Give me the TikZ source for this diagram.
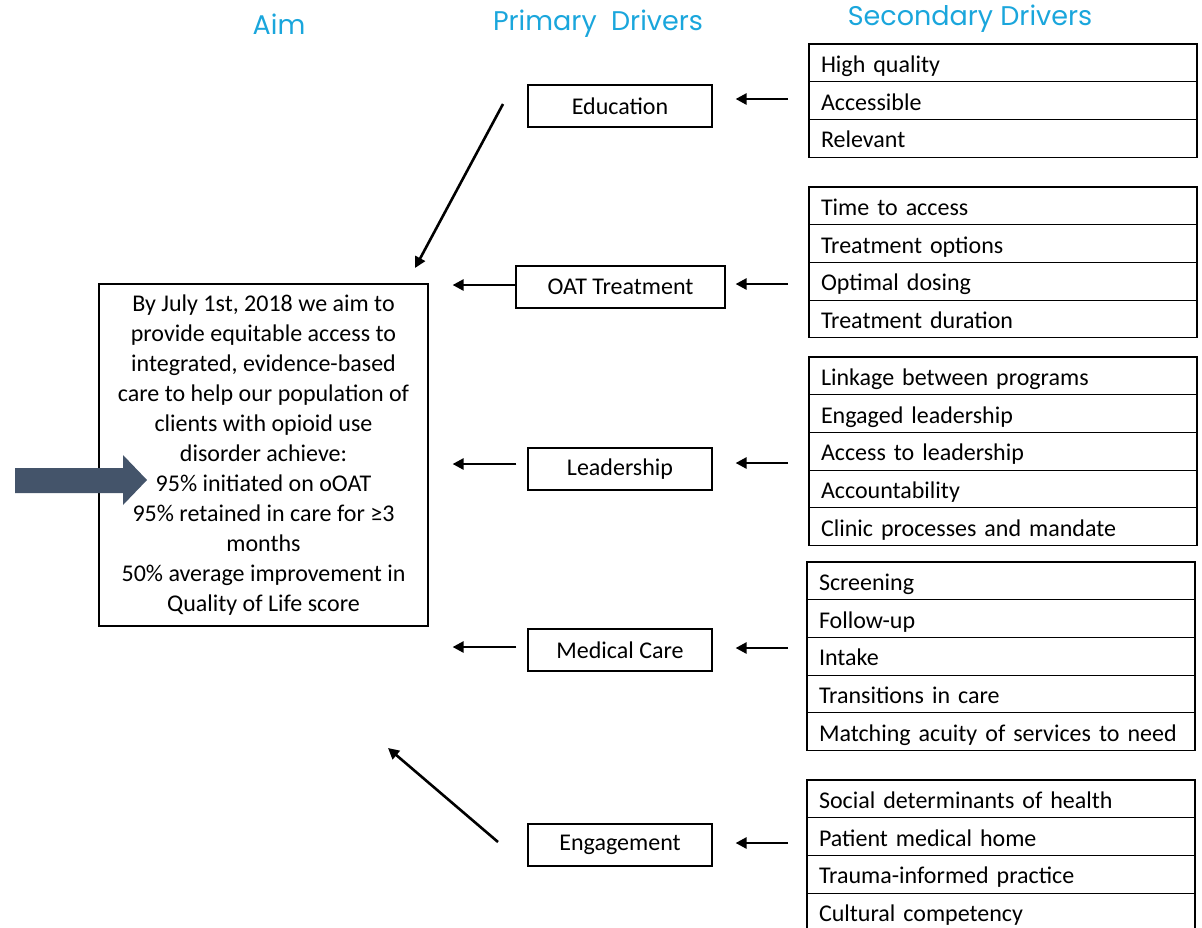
\documentclass[tikz,border=0pt]{standalone}
\usepackage{fontspec}
\setmainfont{Carlito}
\newfontfamily\headfont{Poppins}
\usetikzlibrary{arrows.meta,positioning}
\definecolor{hdcyan}{HTML}{1AA6DC}
\definecolor{slate}{HTML}{44546A}

\begin{document}
\begin{tikzpicture}[x=1pt, y=-1pt,
  every node/.style={font=\fontsize{24}{30}\selectfont},
  head/.style={font=\headfont\fontsize{27}{30}\selectfont, text=hdcyan},
  pbox/.style={draw, line width=1.2pt, minimum width=184pt, minimum height=42pt, inner sep=0pt},
  row/.style={draw, line width=1.2pt, outer sep=0pt, minimum height=37.7pt, text width=364pt, text height=23pt, text depth=4pt, inner xsep=12pt, inner ysep=0pt, align=left},
  arr/.style={-{Triangle[length=11pt,width=11pt]}, line width=2.6pt}
]
\useasboundingbox (0,0) rectangle (1202,927);

% headers
\node[head] (aimhd) at (279,24) {Aim};
\node[head] (prihd) at (598,24) {Primary\ \ Drivers};
\node[head] (sechd) at (970,19) {Secondary Drivers};

% aim
\node[draw, line width=1.2pt, minimum width=329pt, minimum height=342pt, align=center] (aim) at (263.5,455)
  {By July 1st, 2018 we aim to\\provide equitable access to\\integrated, evidence-based\\care to help our population of\\clients with opioid use\\disorder achieve:\\95\% initiated on oOAT\\95\% retained in care for ≥3\\months\\50\% average improvement in\\Quality of Life score};
\fill[slate] (15,468) -- (123,468) -- (123,455) -- (147,480) -- (123,505) -- (123,493) -- (15,493) -- cycle;

% primary drivers
\node[pbox] (edu) at (620,106) {Education};
\node[pbox, minimum width=209pt] (oat) at (620.5,287) {OAT Treatment};
\node[pbox] (lead) at (620,469) {Leadership};
\node[pbox] (med) at (620,650) {Medical Care};
\node[pbox] (eng) at (620,845) {Engagement};

% secondary drivers
\node[row, anchor=north west] (hq) at (809,44) {High quality};
\node[row, below=0pt of hq] (acc) {Accessible};
\node[row, below=0pt of acc] (rel) {Relevant};

\node[row, anchor=north west] (tta) at (809,187) {Time to access};
\node[row, below=0pt of tta] (topt) {Treatment options};
\node[row, below=0pt of topt] (dose) {Optimal dosing};
\node[row, below=0pt of dose] (tdur) {Treatment duration};

\node[row, anchor=north west] (link) at (809,357) {Linkage between programs};
\node[row, below=0pt of link] (engl) {Engaged leadership};
\node[row, below=0pt of engl] (accl) {Access to leadership};
\node[row, below=0pt of accl] (acct) {Accountability};
\node[row, below=0pt of acct] (clin) {Clinic processes and mandate};

\node[row, anchor=north west] (scr) at (807,562) {Screening};
\node[row, below=0pt of scr] (fup) {Follow-up};
\node[row, below=0pt of fup] (intk) {Intake};
\node[row, below=0pt of intk] (trans) {Transitions in care};
\node[row, below=0pt of trans] (match) {Matching acuity of services to need};

\node[row, anchor=north west] (soc) at (807,780) {Social determinants of health};
\node[row, below=0pt of soc] (pmh) {Patient medical home};
\node[row, below=0pt of pmh] (trau) {Trauma-informed practice};
\node[row, below=0pt of trau] (cult) {Cultural competency};

% secondary -> primary
\draw[arr, shorten <=21pt, shorten >=23pt] ([yshift=7pt]hq.west |- edu.east) -- ([yshift=7pt]edu.east);
\draw[arr, shorten <=21pt, shorten >=10pt] ([yshift=3pt]tta.west |- oat.east) -- ([yshift=3pt]oat.east);
\draw[arr, shorten <=21pt, shorten >=23pt] ([yshift=6pt]link.west |- lead.east) -- ([yshift=6pt]lead.east);
\draw[arr, shorten <=19pt, shorten >=23pt] ([yshift=2pt]scr.west |- med.east) -- ([yshift=2pt]med.east);
\draw[arr, shorten <=19pt, shorten >=23pt] ([yshift=2pt]soc.west |- eng.east) -- ([yshift=2pt]eng.east);

% primary -> aim
\coordinate (eduout) at (503,104);
\coordinate (aimtop) at (415,268);
\draw[arr] (eduout) -- (aimtop);
\draw[arr, shorten >=24pt] ([yshift=2pt]oat.west) -- ([yshift=2pt]oat.west -| aim.east);
\draw[arr, shorten <=11pt, shorten >=24pt] ([yshift=5pt]lead.west) -- ([yshift=5pt]lead.west -| aim.east);
\draw[arr, shorten <=11pt, shorten >=24pt] ([yshift=3pt]med.west) -- ([yshift=3pt]med.west -| aim.east);
\coordinate (engout) at (498,842);
\coordinate (aimbot) at (388,748);
\draw[arr] (engout) -- (aimbot);
\end{tikzpicture}
\end{document}
